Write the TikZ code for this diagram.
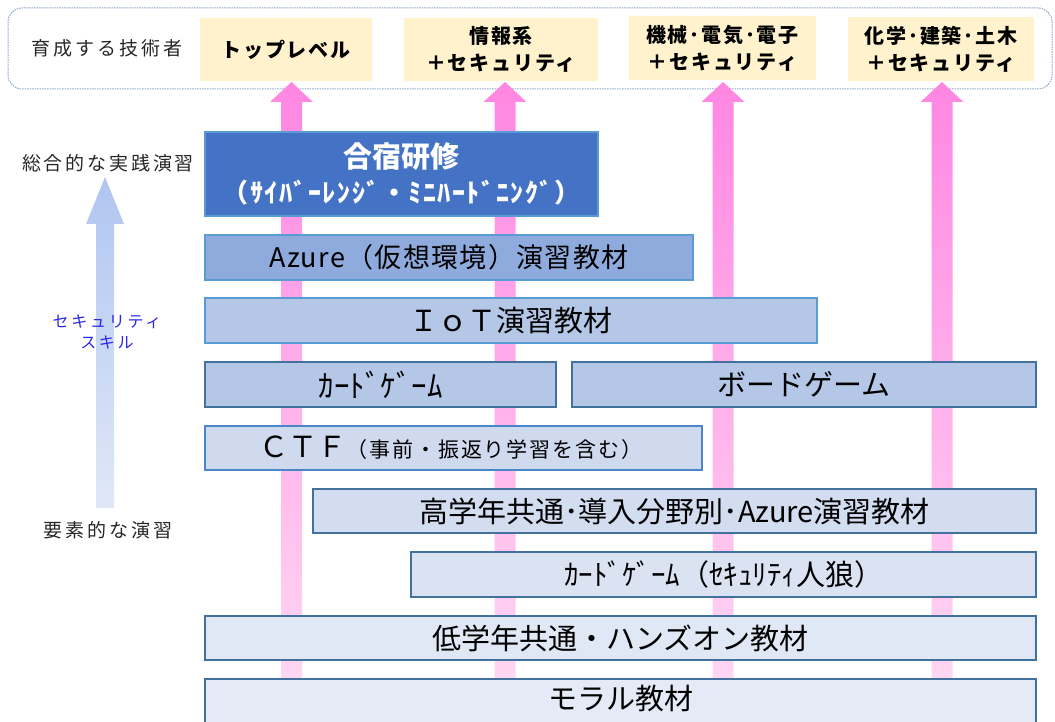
\documentclass[tikz,border=0pt]{standalone}
\usepackage{fontspec}
\setmainfont{Noto Sans CJK JP}
\newcommand{\myfs}[1]{\fontsize{#1}{#1}\selectfont}
\newcommand{\ls}[1]{\addfontfeature{LetterSpace=#1}}
\definecolor{yel}{HTML}{FFF2CC}
\definecolor{pinktop}{RGB}{255,134,226}
\definecolor{pinkbot}{RGB}{255,216,243}
\definecolor{bltop}{RGB}{176,197,240}
\definecolor{blbot}{RGB}{224,232,248}
\definecolor{dashc}{RGB}{140,165,200}
\definecolor{bd1}{HTML}{5B9BD5}
\definecolor{bd2}{HTML}{41719C}
\definecolor{bd3}{HTML}{4A86C8}
\definecolor{f1}{HTML}{4472C4}
\definecolor{f2}{HTML}{8FAADC}
\definecolor{f3}{HTML}{B4C7E7}
\definecolor{f4}{HTML}{CFDAEF}
\definecolor{f5}{HTML}{D3DDF0}
\definecolor{f6}{HTML}{DBE3F3}
\definecolor{f7}{HTML}{E1E8F5}
\definecolor{f8}{HTML}{E4EAF6}
\definecolor{skill}{RGB}{40,40,230}
\tikzset{
  bar/.style={draw=bd2, line width=1.5pt, inner sep=0pt, text=black, font=\myfs{29}},
  ybox/.style={fill=yel, inner sep=0pt, align=center, font={\fontsize{20}{27}\selectfont\bfseries\ls{9}}, text=black},
  side/.style={text=black!85, font={\myfs{19}\ls{15}}, inner sep=0pt},
  pinkarrow/.style={top color=pinktop, bottom color=pinkbot, draw=none},
}
\newcommand{\parrow}[1]{%
  \shade[pinkarrow] (#1-10.5,690) -- (#1-10.5,102) -- (#1-21.5,102) -- (#1,82) -- (#1+21.5,102) -- (#1+10.5,102) -- (#1+10.5,690) -- cycle;}
\begin{document}
\begin{tikzpicture}[x=1pt,y=-1pt]
\useasboundingbox (0,0) rectangle (1055,722);
% dashed banner
\draw[dashc, line width=1pt, dash pattern=on 1.5pt off 1pt, rounded corners=14pt] (8,8) rectangle (1052,89);
\node[side] (ikusei) at (107,48) {育成する技術者};
% pink arrows
\parrow{291.5}
\parrow{505}
\parrow{723}
\parrow{942}
% yellow boxes
\node[ybox, minimum width=172pt, minimum height=63pt] (top) at (286,49.5) {トップレベル};
\node[ybox, minimum width=194pt, minimum height=63pt] (info) at (501,49.5) {情報系\\＋セキュリティ};
\node[ybox, minimum width=187pt, minimum height=64pt] (mech) at (722.5,48) {機械･電気･電子\\＋セキュリティ};
\node[ybox, minimum width=186pt, minimum height=64pt] (chem) at (941,49) {化学･建築･土木\\＋セキュリティ};
% left arrow
\shade[top color=bltop, bottom color=blbot] (96,508) -- (96,224) -- (86,224) -- (105,177) -- (124,224) -- (114,224) -- (114,508) -- cycle;
\node[side] (sogo) at (108,163) {総合的な実践演習};
\node[side] (yoso) at (108,530) {要素的な演習};
\node[inner sep=0pt, text=skill, font={\fontsize{16}{21}\selectfont\ls{17}}, align=center] (skill) at (107,332) {セキュリティ\\スキル};
% bars
\node[bar, draw=bd1, fill=f1, text=white, minimum width=393pt, minimum height=84pt, align=center, font=\bfseries] (gasshuku) at (401.5,174)
  {{\myfs{29}合宿研修}\\[8pt]{\myfs{26}\ls{6}（ｻｲﾊﾞｰﾚﾝｼﾞ・ﾐﾆﾊｰﾄﾞﾆﾝｸﾞ）}};
\node[bar, draw=bd1, fill=f2, minimum width=488pt, minimum height=45pt, font={\myfs{27}\ls{5}}] (azure) at (449,257.5) {Azure（仮想環境）演習教材};
\node[bar, draw=bd1, fill=f3, minimum width=612pt, minimum height=45pt] (iot) at (511,320.5) {ＩｏＴ演習教材};
\node[bar, fill=f3, minimum width=351pt, minimum height=45pt, font=\myfs{31}] (card) at (380.5,384.5) {ｶｰﾄﾞｹﾞｰﾑ};
\node[bar, fill=f3, minimum width=464pt, minimum height=45pt] (board) at (804,384.5) {ボードゲーム};
\node[bar, draw=bd3, fill=f4, minimum width=497pt, minimum height=44pt] (ctf) at (453.5,448) {ＣＴＦ{\myfs{21}\ls{9}（事前・振返り学習を含む）}\hspace*{5pt}};
\node[bar, fill=f5, minimum width=723pt, minimum height=44pt] (high) at (674.5,511) {高学年共通･導入分野別･Azure演習教材};
\node[bar, fill=f6, minimum width=625pt, minimum height=45pt, font=\myfs{29}] (wolf) at (723.5,574.5) {ｶｰﾄﾞｹﾞｰﾑ（ｾｷｭﾘﾃｨ人狼）};
\node[bar, fill=f7, minimum width=831pt, minimum height=44pt] (low) at (620.5,638) {低学年共通・ハンズオン教材};
\draw[bd2, line width=1.5pt, fill=f8] (205,740) -- (205,679) -- (1036,679) -- (1036,740);
\node[inner sep=0pt, font=\myfs{29}] (moral) at (620.5,699) {モラル教材};
\end{tikzpicture}
\end{document}
